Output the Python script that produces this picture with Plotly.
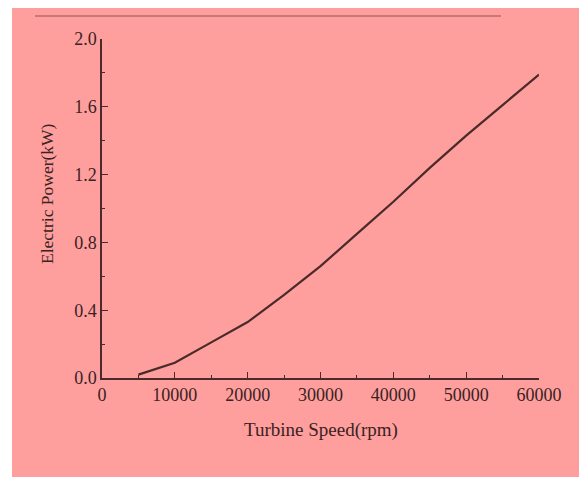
import plotly.graph_objects as go

speed_rpm = [5000, 10000, 15000, 20000, 25000, 30000, 35000, 40000, 45000, 50000, 55000, 60000]
power_kw = [0.02, 0.09, 0.21, 0.33, 0.49, 0.66, 0.85, 1.04, 1.24, 1.43, 1.61, 1.79]

x_ticks = [0, 10000, 20000, 30000, 40000, 50000, 60000]
y_ticks = [0.0, 0.4, 0.8, 1.2, 1.6, 2.0]

PINK = "#FE9F9E"
DARK = "#4A2A2A"
TXT = "#3A2222"
FONT = "Liberation Serif, Times New Roman, serif"

fig = go.Figure()
fig.add_trace(go.Scatter(
    x=speed_rpm, y=power_kw, mode="lines",
    line=dict(color=DARK, width=2.2),
    showlegend=False, hoverinfo="skip",
))

# page has an 8px body margin; figure is shrunk to compensate
OFF = 8
W, H = 587 - OFF, 477 - OFF
L, R, T, B = 102 - OFF, 48, 39 - OFF, 99
pw, ph = W - L - R, H - T - B

def px_x(p):  # page pixel -> paper x
    return (p - OFF - L) / pw

def px_y(p):  # page pixel -> paper y
    return (H - B - (p - OFF)) / ph

fig.update_layout(
    width=W, height=H,
    margin=dict(l=L, r=R, t=T, b=B),
    paper_bgcolor="white",
    plot_bgcolor=PINK,
    font=dict(family=FONT, color=TXT, size=18),
    shapes=[
        dict(type="rect", xref="paper", yref="paper",
             x0=px_x(12), x1=px_x(620), y0=px_y(520), y1=px_y(0),
             fillcolor=PINK, line=dict(width=0), layer="below"),
        dict(type="line", xref="paper", yref="paper",
             x0=px_x(35), x1=px_x(501), y0=px_y(16), y1=px_y(16),
             line=dict(color="#B86A6A", width=1.5)),
    ],
    annotations=[
        dict(text="Turbine Speed(rpm)", xref="paper", yref="paper",
             x=px_x(321), y=px_y(430), showarrow=False,
             xanchor="center", yanchor="middle",
             font=dict(size=19, family=FONT, color=TXT)),
        dict(text="Electric Power(kW)", xref="paper", yref="paper",
             x=px_x(47), y=px_y(193), showarrow=False, textangle=-90,
             xanchor="center", yanchor="middle",
             font=dict(size=17.5, family=FONT, color=TXT)),
    ],
)

fig.update_xaxes(
    range=[0, 60000], tickvals=x_ticks, tickformat="d",
    showgrid=False, zeroline=False,
    showline=True, linecolor=DARK, linewidth=1.5,
    ticks="inside", ticklen=6, tickwidth=1.3, tickcolor=DARK,
    minor=dict(dtick=5000, ticks="inside", ticklen=3, tickwidth=1.2, tickcolor=DARK),
    tickfont=dict(size=18, family=FONT, color=TXT),
)
fig.update_yaxes(
    range=[0, 2.0], tickvals=y_ticks, tickformat=".1f",
    showgrid=False, zeroline=False,
    showline=True, linecolor=DARK, linewidth=1.5,
    ticks="inside", ticklen=6, tickwidth=1.3, tickcolor=DARK,
    minor=dict(dtick=0.2, ticks="inside", ticklen=3, tickwidth=1.2, tickcolor=DARK),
    tickfont=dict(size=18, family=FONT, color=TXT),
)

fig.write_html("out.html")
